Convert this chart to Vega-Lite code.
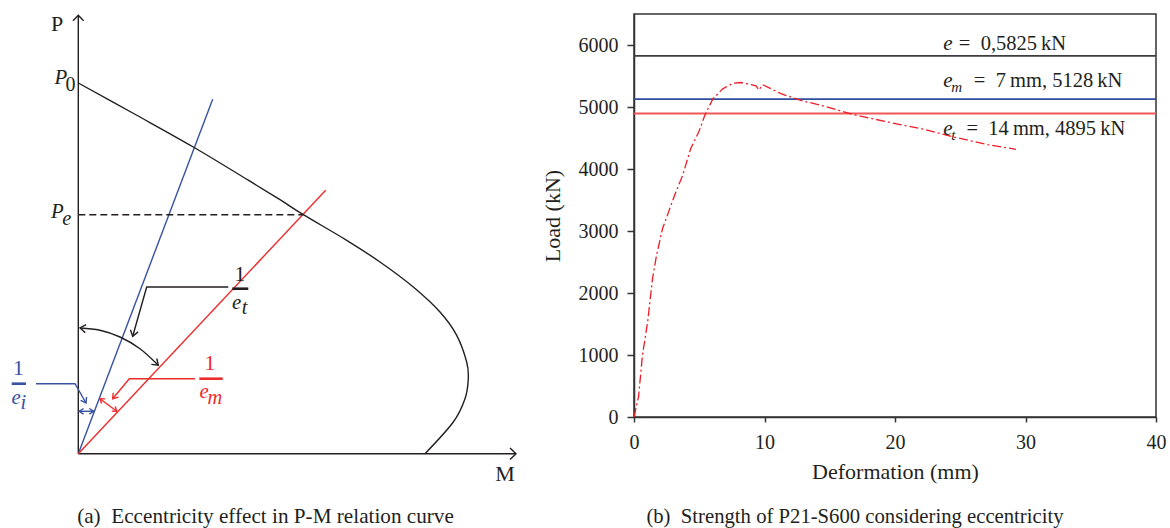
{
  "$schema": "https://vega.github.io/schema/vega-lite/v6.json",
  "padding": {"left": 0, "top": 12, "right": 0, "bottom": 0},
  "spacing": 0,
  "resolve": {"scale": {"color": "independent", "size": "independent"}},
  "config": {
    "font": "Liberation Serif",
    "view": {"stroke": null},
    "axis": {"grid": false, "labelFont": "Liberation Serif", "titleFont": "Liberation Serif", "labelColor": "#231f20", "titleColor": "#231f20", "titleFontWeight": "normal", "domainColor": "#333333", "tickColor": "#333333", "domainWidth": 1.5, "tickWidth": 1.5, "labelFlush": false}
  },
  "datasets": {
    "sketchLines": [
      {"id": "Paxis", "group": "axis", "kind": "solid", "ord": 0, "m": 0, "p": 0},
      {"id": "Paxis", "group": "axis", "kind": "solid", "ord": 1, "m": 0, "p": 438.5},
      {"id": "Parrow", "group": "axis", "kind": "solid", "ord": 0, "m": -5.3, "p": 433},
      {"id": "Parrow", "group": "axis", "kind": "solid", "ord": 1, "m": 0, "p": 438.5},
      {"id": "Parrow", "group": "axis", "kind": "solid", "ord": 2, "m": 5.3, "p": 433},
      {"id": "Maxis", "group": "axis", "kind": "solid", "ord": 0, "m": 0, "p": 0},
      {"id": "Maxis", "group": "axis", "kind": "solid", "ord": 1, "m": 437.7, "p": 0},
      {"id": "Marrow", "group": "axis", "kind": "solid", "ord": 0, "m": 431.7, "p": 5.7},
      {"id": "Marrow", "group": "axis", "kind": "solid", "ord": 1, "m": 437.7, "p": 0},
      {"id": "Marrow", "group": "axis", "kind": "solid", "ord": 2, "m": 431.7, "p": -5.7},
      {"id": "PM", "group": "PM", "kind": "curve", "ord": 0, "m": 0, "p": 370.7},
      {"id": "PM", "group": "PM", "kind": "curve", "ord": 1, "m": 58, "p": 338.7},
      {"id": "PM", "group": "PM", "kind": "curve", "ord": 2, "m": 115, "p": 306.7},
      {"id": "PM", "group": "PM", "kind": "curve", "ord": 3, "m": 170, "p": 273.5},
      {"id": "PM", "group": "PM", "kind": "curve", "ord": 4, "m": 201.7, "p": 254},
      {"id": "PM", "group": "PM", "kind": "curve", "ord": 5, "m": 225, "p": 239},
      {"id": "PM", "group": "PM", "kind": "curve", "ord": 6, "m": 268.4, "p": 213.4},
      {"id": "PM", "group": "PM", "kind": "curve", "ord": 7, "m": 301.7, "p": 191.7},
      {"id": "PM", "group": "PM", "kind": "curve", "ord": 8, "m": 335, "p": 166.7},
      {"id": "PM", "group": "PM", "kind": "curve", "ord": 9, "m": 361.7, "p": 141.7},
      {"id": "PM", "group": "PM", "kind": "curve", "ord": 10, "m": 378.4, "p": 118.4},
      {"id": "PM", "group": "PM", "kind": "curve", "ord": 11, "m": 388.4, "p": 91.7},
      {"id": "PM", "group": "PM", "kind": "curve", "ord": 12, "m": 390, "p": 75},
      {"id": "PM", "group": "PM", "kind": "curve", "ord": 13, "m": 386.7, "p": 55},
      {"id": "PM", "group": "PM", "kind": "curve", "ord": 14, "m": 375, "p": 31.7},
      {"id": "PM", "group": "PM", "kind": "curve", "ord": 15, "m": 346.7, "p": 0},
      {"id": "Pe", "group": "Pe", "kind": "dashed", "ord": 0, "m": 0, "p": 239},
      {"id": "Pe", "group": "Pe", "kind": "dashed", "ord": 1, "m": 225, "p": 239},
      {"id": "eiLine", "group": "ei", "kind": "solid", "ord": 0, "m": 0, "p": 0},
      {"id": "eiLine", "group": "ei", "kind": "solid", "ord": 1, "m": 134.4, "p": 354.4},
      {"id": "emLine", "group": "em", "kind": "solid", "ord": 0, "m": 0, "p": 0},
      {"id": "emLine", "group": "em", "kind": "solid", "ord": 1, "m": 247.4, "p": 263.4},
      {"id": "arc", "group": "et", "kind": "curve", "ord": 0, "m": 1.7, "p": 125.7},
      {"id": "arc", "group": "et", "kind": "curve", "ord": 1, "m": 21.7, "p": 123.4},
      {"id": "arc", "group": "et", "kind": "curve", "ord": 2, "m": 41.7, "p": 116.7},
      {"id": "arc", "group": "et", "kind": "curve", "ord": 3, "m": 61.7, "p": 105},
      {"id": "arc", "group": "et", "kind": "curve", "ord": 4, "m": 80, "p": 88.4},
      {"id": "arcA", "group": "et", "kind": "solid", "ord": 0, "m": 7.85, "p": 129},
      {"id": "arcA", "group": "et", "kind": "solid", "ord": 1, "m": 1.7, "p": 125.7},
      {"id": "arcA", "group": "et", "kind": "solid", "ord": 2, "m": 6.94, "p": 121.06},
      {"id": "arcB", "group": "et", "kind": "solid", "ord": 0, "m": 73.05, "p": 89.3},
      {"id": "arcB", "group": "et", "kind": "solid", "ord": 1, "m": 80, "p": 88.4},
      {"id": "arcB", "group": "et", "kind": "solid", "ord": 2, "m": 78.45, "p": 95.2},
      {"id": "etLead", "group": "et", "kind": "solid", "ord": 0, "m": 150, "p": 166.7},
      {"id": "etLead", "group": "et", "kind": "solid", "ord": 1, "m": 68.4, "p": 166.7},
      {"id": "etLead", "group": "et", "kind": "solid", "ord": 2, "m": 54.4, "p": 117.4},
      {"id": "etHead", "group": "et", "kind": "solid", "ord": 0, "m": 52.1, "p": 124},
      {"id": "etHead", "group": "et", "kind": "solid", "ord": 1, "m": 54.4, "p": 117.4},
      {"id": "etHead", "group": "et", "kind": "solid", "ord": 2, "m": 59.8, "p": 121.8},
      {"id": "eiLead", "group": "ei", "kind": "solid", "ord": 0, "m": -42.3, "p": 70},
      {"id": "eiLead", "group": "ei", "kind": "solid", "ord": 1, "m": -3.3, "p": 70},
      {"id": "eiLead", "group": "ei", "kind": "solid", "ord": 2, "m": 7.7, "p": 50.7},
      {"id": "eiHead", "group": "ei", "kind": "solid", "ord": 0, "m": 8.26, "p": 56.7},
      {"id": "eiHead", "group": "ei", "kind": "solid", "ord": 1, "m": 7.7, "p": 50.7},
      {"id": "eiHead", "group": "ei", "kind": "solid", "ord": 2, "m": 2.3, "p": 53.3},
      {"id": "eiGap", "group": "ei", "kind": "solid", "ord": 0, "m": 0.8, "p": 42.4},
      {"id": "eiGap", "group": "ei", "kind": "solid", "ord": 1, "m": 15.5, "p": 42.4},
      {"id": "eiGapA", "group": "ei", "kind": "solid", "ord": 0, "m": 5.3, "p": 45.2},
      {"id": "eiGapA", "group": "ei", "kind": "solid", "ord": 1, "m": 0.8, "p": 42.4},
      {"id": "eiGapA", "group": "ei", "kind": "solid", "ord": 2, "m": 5.3, "p": 39.6},
      {"id": "eiGapB", "group": "ei", "kind": "solid", "ord": 0, "m": 11, "p": 45.2},
      {"id": "eiGapB", "group": "ei", "kind": "solid", "ord": 1, "m": 15.5, "p": 42.4},
      {"id": "eiGapB", "group": "ei", "kind": "solid", "ord": 2, "m": 11, "p": 39.6},
      {"id": "emLead", "group": "em", "kind": "solid", "ord": 0, "m": 116.7, "p": 75},
      {"id": "emLead", "group": "em", "kind": "solid", "ord": 1, "m": 51, "p": 75},
      {"id": "emLead", "group": "em", "kind": "solid", "ord": 2, "m": 34.4, "p": 55},
      {"id": "emHead", "group": "em", "kind": "solid", "ord": 0, "m": 34.9, "p": 61},
      {"id": "emHead", "group": "em", "kind": "solid", "ord": 1, "m": 34.4, "p": 55},
      {"id": "emHead", "group": "em", "kind": "solid", "ord": 2, "m": 40.2, "p": 56.6},
      {"id": "emGap", "group": "em", "kind": "solid", "ord": 0, "m": 21.7, "p": 55},
      {"id": "emGap", "group": "em", "kind": "solid", "ord": 1, "m": 38.4, "p": 42.4},
      {"id": "emGapA", "group": "em", "kind": "solid", "ord": 0, "m": 26.7, "p": 54.8},
      {"id": "emGapA", "group": "em", "kind": "solid", "ord": 1, "m": 21.7, "p": 55},
      {"id": "emGapA", "group": "em", "kind": "solid", "ord": 2, "m": 23.2, "p": 50.2},
      {"id": "emGapB", "group": "em", "kind": "solid", "ord": 0, "m": 33.4, "p": 42.6},
      {"id": "emGapB", "group": "em", "kind": "solid", "ord": 1, "m": 38.4, "p": 42.4},
      {"id": "emGapB", "group": "em", "kind": "solid", "ord": 2, "m": 36.9, "p": 47.2},
      {"id": "etBar", "group": "et", "kind": "bar", "ord": 0, "m": 154, "p": 165},
      {"id": "etBar", "group": "et", "kind": "bar", "ord": 1, "m": 170, "p": 165},
      {"id": "eiBar", "group": "ei", "kind": "bar", "ord": 0, "m": -66.6, "p": 70},
      {"id": "eiBar", "group": "ei", "kind": "bar", "ord": 1, "m": -52.3, "p": 70},
      {"id": "emBar", "group": "em", "kind": "bar", "ord": 0, "m": 121, "p": 75},
      {"id": "emBar", "group": "em", "kind": "bar", "ord": 1, "m": 144.4, "p": 75}
    ],
    "sketchText": [
      {"m": -21.3, "p": 429.7, "text": "P", "group": "axis", "role": "label"},
      {"m": 426.7, "p": -20.3, "text": "M", "group": "axis", "role": "label"},
      {"m": -17.5, "p": 375.4, "text": "P", "group": "axis", "role": "symbol"},
      {"m": -7.8, "p": 369, "text": "0", "group": "axis", "role": "subup"},
      {"m": -21, "p": 241.7, "text": "P", "group": "Pe", "role": "symbol"},
      {"m": -11.5, "p": 234.5, "text": "e", "group": "Pe", "role": "sub"},
      {"m": 161.7, "p": 179, "text": "1", "group": "et", "role": "digit"},
      {"m": 158.4, "p": 151, "text": "e", "group": "et", "role": "symbol"},
      {"m": 166.2, "p": 146, "text": "t", "group": "et", "role": "sub"},
      {"m": -60, "p": 85, "text": "1", "group": "ei", "role": "digit"},
      {"m": -62.3, "p": 56, "text": "e", "group": "ei", "role": "symbol"},
      {"m": -55, "p": 50.5, "text": "i", "group": "ei", "role": "sub"},
      {"m": 131.7, "p": 90, "text": "1", "group": "em", "role": "digit"},
      {"m": 125.7, "p": 62, "text": "e", "group": "em", "role": "symbol"},
      {"m": 136.5, "p": 56, "text": "m", "group": "em", "role": "sub"},
      {"m": 187.2, "p": -63.3, "text": "(a)\u2002Eccentricity effect in P-M relation curve", "group": "axis", "role": "caption"}
    ],
    "curve": [
      {"deformation": 0, "load": 0},
      {"deformation": 0.35, "load": 330},
      {"deformation": 0.65, "load": 1000},
      {"deformation": 1.05, "load": 1540},
      {"deformation": 1.42, "load": 2236},
      {"deformation": 1.73, "load": 2611},
      {"deformation": 2.19, "load": 3040},
      {"deformation": 2.65, "load": 3308},
      {"deformation": 3.11, "load": 3576},
      {"deformation": 3.73, "load": 3898},
      {"deformation": 4.34, "load": 4327},
      {"deformation": 4.96, "load": 4595},
      {"deformation": 5.42, "load": 4863},
      {"deformation": 6.04, "load": 5131},
      {"deformation": 6.8, "load": 5292},
      {"deformation": 7.57, "load": 5383},
      {"deformation": 8.2, "load": 5395},
      {"deformation": 8.97, "load": 5360},
      {"deformation": 9.35, "load": 5340},
      {"deformation": 9.58, "load": 5274},
      {"deformation": 9.86, "load": 5360},
      {"deformation": 11.26, "load": 5215},
      {"deformation": 12.8, "load": 5105},
      {"deformation": 14.33, "load": 5027},
      {"deformation": 16.86, "load": 4876},
      {"deformation": 19.44, "load": 4758},
      {"deformation": 22, "load": 4650},
      {"deformation": 24.5, "load": 4516},
      {"deformation": 27.1, "load": 4392},
      {"deformation": 29.27, "load": 4318}
    ],
    "levels": [
      {"case": "e", "load": 5825},
      {"case": "em", "load": 5128},
      {"case": "et", "load": 4895}
    ],
    "labels": [
      {"deformation": 23.69, "load": 5924, "text": "e", "role": "symbol"},
      {"deformation": 24.89, "load": 5924, "text": "=\u20020,5825\u2009kN", "role": "body"},
      {"deformation": 23.69, "load": 5323, "text": "e", "role": "symbol"},
      {"deformation": 24.31, "load": 5242, "text": "m", "role": "sub"},
      {"deformation": 26.04, "load": 5323, "text": "=\u20027\u2009mm, 5128\u2009kN", "role": "body"},
      {"deformation": 23.69, "load": 4543, "text": "e", "role": "symbol"},
      {"deformation": 24.31, "load": 4468, "text": "t", "role": "sub"},
      {"deformation": 25.48, "load": 4543, "text": "=\u200214\u2009mm, 4895\u2009kN", "role": "body"},
      {"deformation": 16.93, "load": -1613, "text": "(b)\u2002Strength of P21-S600 considering eccentricity", "role": "caption"}
    ]
  },
  "hconcat": [
    {
      "width": 540,
      "height": 516,
      "view": {"stroke": null},
      "encoding": {
        "x": {"field": "m", "type": "quantitative", "scale": {"domain": [-78.3, 461.7], "nice": false, "zero": false}, "axis": null},
        "y": {"field": "p", "type": "quantitative", "scale": {"domain": [-76.3, 439.7], "nice": false, "zero": false}, "axis": null}
      },
      "layer": [
        {
          "data": {"name": "sketchLines"},
          "transform": [{"filter": "datum.kind === 'solid'"}],
          "mark": {"type": "line", "strokeWidth": 1.4},
          "encoding": {
            "detail": {"field": "id"},
            "order": {"field": "ord", "type": "quantitative"},
            "color": {"field": "group", "type": "nominal", "scale": {"domain": ["axis", "PM", "Pe", "et", "ei", "em"], "range": ["#231f20", "#231f20", "#231f20", "#231f20", "#3752a3", "#ee2b2b"]}, "legend": null}
          }
        },
        {
          "data": {"name": "sketchLines"},
          "transform": [{"filter": "datum.kind === 'curve'"}],
          "mark": {"type": "line", "strokeWidth": 1.4, "interpolate": "cardinal"},
          "encoding": {
            "detail": {"field": "id"},
            "order": {"field": "ord", "type": "quantitative"},
            "color": {"field": "group", "type": "nominal", "legend": null}
          }
        },
        {
          "data": {"name": "sketchLines"},
          "transform": [{"filter": "datum.kind === 'dashed'"}],
          "mark": {"type": "line", "strokeWidth": 1.4, "strokeDash": [7, 4]},
          "encoding": {
            "detail": {"field": "id"},
            "order": {"field": "ord", "type": "quantitative"},
            "color": {"field": "group", "type": "nominal", "legend": null}
          }
        },
        {
          "data": {"name": "sketchLines"},
          "transform": [{"filter": "datum.kind === 'bar'"}],
          "mark": {"type": "line", "strokeWidth": 2.6},
          "encoding": {
            "detail": {"field": "id"},
            "order": {"field": "ord", "type": "quantitative"},
            "color": {"field": "group", "type": "nominal", "legend": null}
          }
        },
        {
          "data": {"name": "sketchText"},
          "transform": [{"filter": "datum.role === 'symbol' || datum.role === 'sub'"}],
          "mark": {"type": "text", "fontStyle": "italic", "align": "center", "baseline": "middle"},
          "encoding": {
            "text": {"field": "text"},
            "color": {"field": "group", "type": "nominal", "legend": null},
            "size": {"field": "role", "type": "ordinal", "scale": {"domain": ["label", "digit", "caption", "symbol", "sub", "subup"], "range": [22, 20, 20.7, 22, 15, 14]}, "legend": null}
          }
        },
        {
          "data": {"name": "sketchText"},
          "transform": [{"filter": "datum.role !== 'symbol' && datum.role !== 'sub'"}],
          "mark": {"type": "text", "align": "center", "baseline": "middle"},
          "encoding": {
            "text": {"field": "text"},
            "color": {"field": "group", "type": "nominal", "legend": null},
            "size": {"field": "role", "type": "ordinal", "legend": null}
          }
        }
      ]
    },
    {
      "width": 522,
      "height": 403,
      "view": {"stroke": "#333333", "strokeWidth": 1.5},
      "layer": [
        {
          "data": {"name": "levels"},
          "mark": {"type": "rule", "strokeWidth": 1.8},
          "encoding": {
            "y": {"field": "load", "type": "quantitative"},
            "color": {"field": "case", "type": "nominal", "scale": {"domain": ["e", "em", "et"], "range": ["#3d3d3d", "#2f4c9f", "#f25757"]}, "legend": null}
          }
        },
        {
          "data": {"name": "curve"},
          "mark": {"type": "line", "color": "#ee1c25", "strokeWidth": 1.3, "strokeDash": [9, 3, 2, 3]},
          "encoding": {
            "x": {"field": "deformation", "type": "quantitative", "scale": {"domain": [0, 40], "nice": false, "zero": false}, "title": "Deformation (mm)", "axis": {"values": [0, 10, 20, 30, 40], "format": "d", "tickSize": 5, "labelFontSize": 20, "labelPadding": 10, "titleFontSize": 22, "titlePadding": 9}},
            "y": {"field": "load", "type": "quantitative", "scale": {"domain": [0, 6500], "nice": false, "zero": false}, "title": "Load (kN)", "axis": {"values": [0, 1000, 2000, 3000, 4000, 5000, 6000], "format": "d", "tickSize": 7, "labelFontSize": 20, "labelPadding": 9, "titleFontSize": 22, "titlePadding": 14}}
          }
        },
        {
          "data": {"name": "labels"},
          "transform": [{"filter": "datum.role === 'symbol'"}],
          "mark": {"type": "text", "fontStyle": "italic", "fontSize": 21, "align": "left", "baseline": "alphabetic", "color": "#231f20"},
          "encoding": {"x": {"field": "deformation", "type": "quantitative"}, "y": {"field": "load", "type": "quantitative"}, "text": {"field": "text"}}
        },
        {
          "data": {"name": "labels"},
          "transform": [{"filter": "datum.role === 'sub'"}],
          "mark": {"type": "text", "fontStyle": "italic", "fontSize": 15, "align": "left", "baseline": "alphabetic", "color": "#231f20"},
          "encoding": {"x": {"field": "deformation", "type": "quantitative"}, "y": {"field": "load", "type": "quantitative"}, "text": {"field": "text"}}
        },
        {
          "data": {"name": "labels"},
          "transform": [{"filter": "datum.role === 'body'"}],
          "mark": {"type": "text", "fontSize": 20.5, "align": "left", "baseline": "alphabetic", "color": "#231f20"},
          "encoding": {"x": {"field": "deformation", "type": "quantitative"}, "y": {"field": "load", "type": "quantitative"}, "text": {"field": "text"}}
        },
        {
          "data": {"name": "labels"},
          "transform": [{"filter": "datum.role === 'caption'"}],
          "mark": {"type": "text", "fontSize": 20.7, "align": "center", "baseline": "middle", "color": "#231f20"},
          "encoding": {"x": {"field": "deformation", "type": "quantitative"}, "y": {"field": "load", "type": "quantitative"}, "text": {"field": "text"}}
        }
      ]
    }
  ]
}
